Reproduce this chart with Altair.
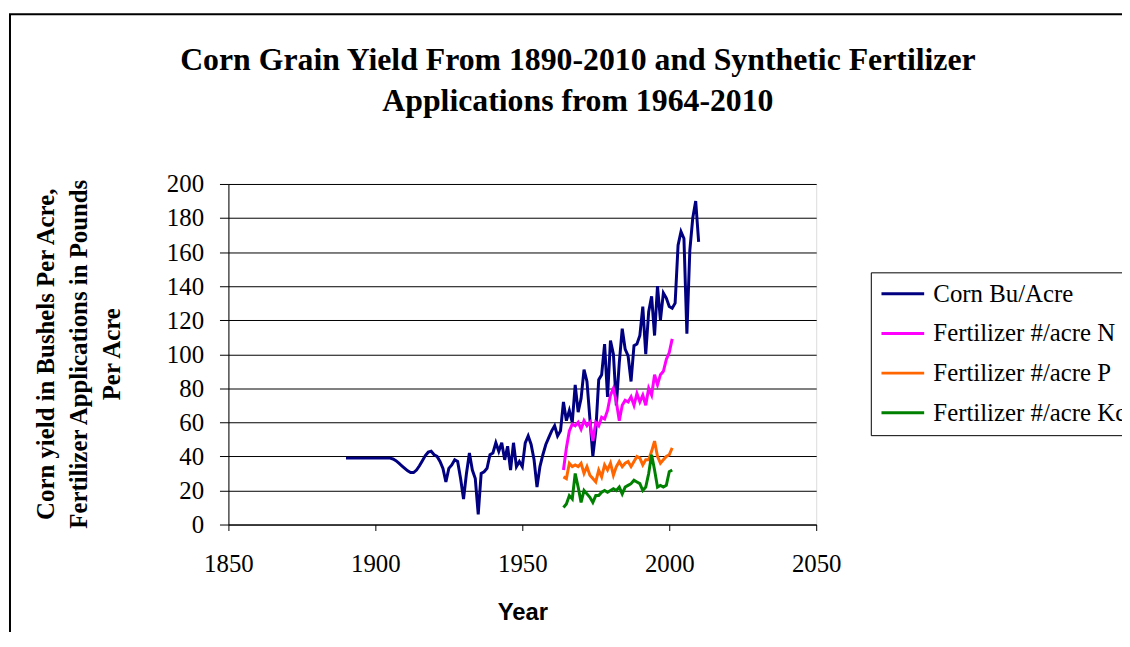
import altair as alt
import pandas as pd

# ---------------- data ----------------
corn_years = list(range(1890, 2011))
corn_yield = (
    [39] * 16 +                                   # 1890-1905
    [38.5, 37.5, 36, 34.5, 33, 31.5, 30.5, 30.5,  # 1906-1913
     32, 34.5, 37.5, 40.5, 42.5, 43] +            # 1914-1919
    [41, 40, 37, 33, 25, 33, 35, 38, 37, 27] +    # 1920s
    [15, 30, 42, 32, 27, 6, 30, 31, 33, 41] +     # 1930s
    [42, 48, 43, 48, 38, 46, 32, 48, 34, 37] +    # 1940s
    [34, 48, 52, 47, 38, 22, 34, 41, 47, 51] +    # 1950s
    [55, 58, 52, 55, 72, 61, 67, 60, 82, 66] +    # 1960s
    [74, 91, 84, 62, 40, 55, 85, 88, 106, 75] +   # 1970s
    [108, 100, 70, 95, 115, 103, 99, 84, 105, 106] +  # 1980s
    [111, 128, 100, 125, 134, 111, 140, 120, 136, 133] +  # 1990s
    [128, 127, 130, 164, 172, 168, 112, 161, 180, 190] +  # 2000s
    [166]                                          # 2010
)

fert_years = list(range(1964, 2002))
fert_n = [32, 45, 55, 59, 58, 60, 56, 61, 58, 60,
          49, 60, 58, 63, 62, 67, 76, 80, 72, 61,
          70, 73, 72, 75, 70, 77, 72, 76, 70, 80,
          76, 88, 82, 88, 90, 97, 101, 109]
fert_p = [28, 27, 36, 34, 35, 34, 36, 30, 34, 29,
          27, 25, 32, 28, 35, 32, 36, 29, 34, 37,
          34, 36, 37, 34, 37, 40, 39, 35, 38, 38,
          43, 49, 40, 36, 38, 40, 41, 45]
fert_k = [10, 12, 17, 15, 30, 22, 13, 20, 18, 16,
          13, 17, 17, 19, 20, 19, 20, 21, 20, 22,
          18, 22, 23, 24, 26, 25, 24, 20, 22, 30,
          41, 32, 22, 23, 22, 23, 31, 32]

series_names = ["Corn Bu/Acre", "Fertilizer #/acre N",
                "Fertilizer #/acre P", "Fertilizer #/acre Kcl"]
series_colors = ["#000080", "#FF00FF", "#FF6600", "#008000"]

x_ticks = [1850, 1900, 1950, 2000, 2050]
y_ticks = list(range(0, 201, 20))

title_lines = ["Corn Grain Yield From 1890-2010 and Synthetic Fertilizer",
               "Applications from 1964-2010"]
y_title = ["Corn yield in Bushels Per Acre,",
           "Fertilizer Applications in Pounds",
           "Per Acre"]

rows = []
for yr, v in zip(corn_years, corn_yield):
    rows.append({"series": series_names[0], "year": yr, "value": v, "k": 0})
for idx, vals in ((1, fert_n), (2, fert_p), (3, fert_k)):
    for yr, v in zip(fert_years, vals):
        rows.append({"series": series_names[idx], "year": yr, "value": v, "k": idx})
df = pd.DataFrame(rows)

SERIF = "Liberation Serif"
SANS = "Liberation Sans"

lines = alt.Chart(df).mark_line(strokeWidth=3).encode(
    x=alt.X("year:Q",
            scale=alt.Scale(domain=[1850, 2050], nice=False, zero=False),
            axis=alt.Axis(values=x_ticks, format="d", grid=False,
                          title="Year", titleFont=SANS, titleFontSize=24,
                          titleFontWeight="bold", titleColor="black",
                          titleY=96, titleBaseline="alphabetic",
                          labelFont=SERIF, labelFontSize=25, labelColor="black",
                          labelPadding=21, tickSize=6, tickColor="black",
                          domainColor="black", labelFlush=False)),
    y=alt.Y("value:Q",
            scale=alt.Scale(domain=[0, 200], nice=False),
            axis=alt.Axis(values=y_ticks, grid=True, gridColor="black",
                          gridOpacity=1, gridWidth=1,
                          title=y_title, titleFont=SERIF, titleFontSize=25,
                          titleFontWeight="bold", titleColor="black",
                          titleAngle=270, titleX=-196, titleY=171,
                          titleAlign="center", titleBaseline="top",
                          titleLineHeight=33,
                          labelFont=SERIF, labelFontSize=25, labelColor="black",
                          labelPadding=16, tickSize=9, tickColor="black",
                          domainColor="black")),
    color=alt.Color("series:N",
                    scale=alt.Scale(domain=series_names, range=series_colors),
                    legend=alt.Legend(title=None, orient="none",
                                      legendX=647, legendY=89,
                                      strokeColor="black", fillColor="white",
                                      padding=9, symbolType="M-1,0H3",
                                      symbolSize=462, symbolStrokeWidth=3,
                                      labelFont=SERIF, labelFontSize=25,
                                      labelColor="black", labelLimit=500,
                                      rowPadding=14, labelOffset=29)),
    order=alt.Order("k:Q"),
)

border = alt.Chart(alt.Data(values=[{"a": 1}])).mark_rect(
    fillOpacity=0, stroke="black", strokeWidth=2
).encode(
    x=alt.value(-220), x2=alt.value(1000),
    y=alt.value(-171), y2=alt.value(700),
)

chart = alt.layer(lines, border).properties(
    width=592, height=343,
    autosize=alt.AutoSizeParams(type="none"),
    padding={"left": 222, "top": 175, "right": 308, "bottom": 106},
    title=alt.TitleParams(text=title_lines, font=SERIF, fontSize=32,
                          fontWeight="bold", color="black", anchor="middle",
                          frame="group", dx=56, offset=-131, lineHeight=42,
                          baseline="alphabetic"),
).configure_view(stroke="black", strokeWidth=1).configure(background="white")

chart.save("out.html", embed_options={"renderer": "svg", "actions": False})
